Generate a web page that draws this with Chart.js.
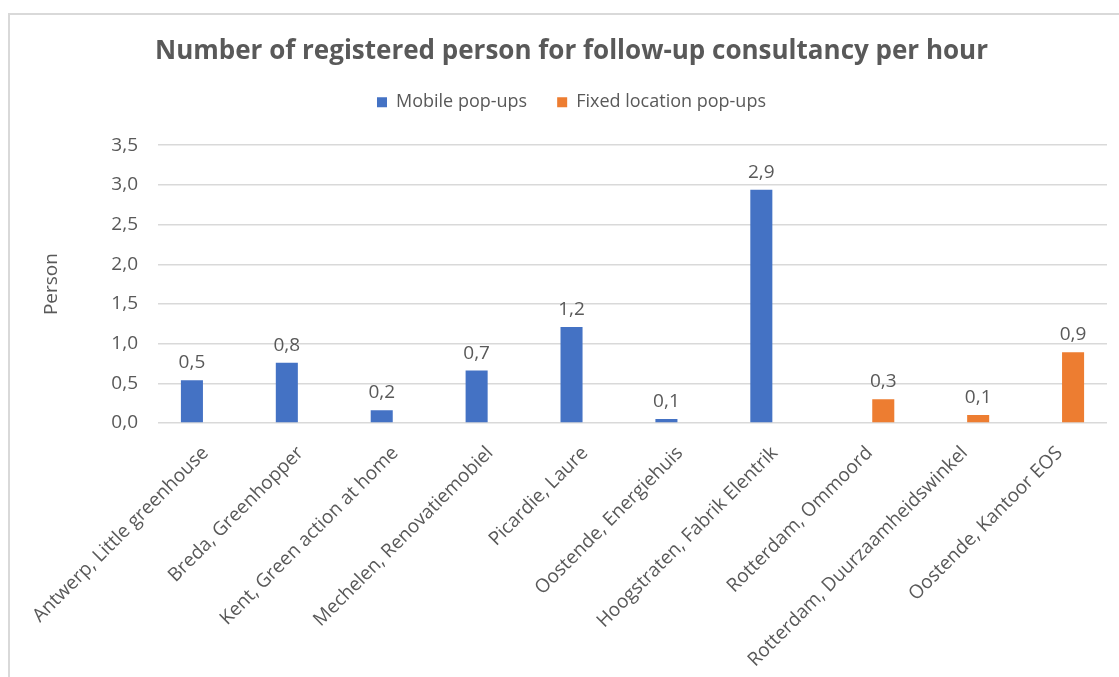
<!DOCTYPE html>
<html>
<head>
<meta charset="utf-8">
<script src="https://cdn.jsdelivr.net/npm/chart.js@4.4.1/dist/chart.umd.min.js"></script>
<style>
  html, body { margin: 0; padding: 0; background: #fff; overflow: hidden; }
  #marco {
    position: absolute; left: 8px; top: 13px;
    width: 1130px; height: 700px;
    border: 2px solid #d9d9d9; box-sizing: border-box;
  }
  #lienzo { position: absolute; left: 0; top: 0; }
</style>
</head>
<body>
<div id="marco"></div>
<canvas id="lienzo" width="1119" height="677"></canvas>
<script>
// Datos
const categorias = [
  "Antwerp, Little greenhouse",
  "Breda, Greenhopper",
  "Kent, Green action at home",
  "Mechelen, Renovatiemobiel",
  "Picardie, Laure",
  "Oostende, Energiehuis",
  "Hoogstraten, Fabrik Elentrik",
  "Rotterdam, Ommoord",
  "Rotterdam, Duurzaamheidswinkel",
  "Oostende, Kantoor EOS"
];
const popupsMoviles = [0.54, 0.76, 0.16, 0.66, 1.21, 0.05, 2.94, null, null, null];
const popupsFijos = [null, null, null, null, null, null, null, 0.30, 0.10, 0.89];
const ticksY = [0, 0.5, 1, 1.5, 2, 2.5, 3, 3.5];

const GRIS_TEXTO = "#595959";
const FUENTE = "'Open Sans', 'Noto Sans', sans-serif";

// Etiquetas de valor encima de cada barra (formato con coma decimal)
const etiquetasValor = {
  id: "etiquetasValor",
  afterDatasetsDraw(chart) {
    const ctx = chart.ctx;
    ctx.save();
    ctx.font = "19px " + FUENTE;
    ctx.fillStyle = GRIS_TEXTO;
    ctx.textAlign = "center";
    ctx.textBaseline = "bottom";
    chart.data.datasets.forEach((ds, i) => {
      const meta = chart.getDatasetMeta(i);
      meta.data.forEach((barra, j) => {
        const v = ds.data[j];
        if (v === null || v === undefined) return;
        ctx.fillText(v.toFixed(1).replace(".", ","), barra.x, barra.y - 8);
      });
    });
    ctx.restore();
  }
};

new Chart(document.getElementById("lienzo").getContext("2d"), {
  type: "bar",
  data: {
    labels: categorias,
    datasets: [
      {
        label: "Mobile pop-ups",
        data: popupsMoviles,
        backgroundColor: "#4472C4",
        categoryPercentage: 0.57,
        barPercentage: 0.815
      },
      {
        label: "Fixed location pop-ups",
        data: popupsFijos,
        backgroundColor: "#ED7D31",
        categoryPercentage: 0.57,
        barPercentage: 0.815
      }
    ]
  },
  options: {
    responsive: false,
    animation: false,
    layout: { padding: { left: 36, right: 12, top: 0, bottom: 0 } },
    plugins: {
      title: {
        display: true,
        text: "Number of registered person for follow-up consultancy per hour",
        color: GRIS_TEXTO,
        font: { family: FUENTE, size: 26, weight: "bold" },
        padding: { top: 36, bottom: -4 }
      },
      // separador vacío entre la leyenda y el área del gráfico
      subtitle: {
        display: true,
        text: "",
        weight: 500,
        font: { size: 10, lineHeight: 1 },
        padding: { top: 0, bottom: 14 }
      },
      legend: {
        display: true,
        labels: {
          color: GRIS_TEXTO,
          font: { family: FUENTE, size: 18 },
          boxWidth: 10,
          boxHeight: 10,
          padding: 30
        }
      },
      tooltip: { enabled: false }
    },
    scales: {
      x: {
        grid: { display: false },
        border: { display: false },
        ticks: {
          color: GRIS_TEXTO,
          font: { family: FUENTE, size: 19 },
          minRotation: 45,
          maxRotation: 45,
          autoSkip: false,
          padding: 11
        },
        afterFit(escala) { escala.height = 254; }
      },
      y: {
        min: 0,
        max: 3.5,
        afterBuildTicks(escala) { escala.ticks = ticksY.map(v => ({ value: v })); },
        grid: { color: "#d9d9d9", lineWidth: 1.5, drawTicks: false },
        border: { display: false },
        ticks: {
          color: GRIS_TEXTO,
          font: { family: FUENTE, size: 19 },
          padding: 20,
          callback: v => Number(v).toFixed(1).replace(".", ",")
        },
        title: {
          display: true,
          text: "Person",
          color: GRIS_TEXTO,
          font: { family: FUENTE, size: 19 }
        },
        afterFit(escala) { escala.width = 122; }
      }
    }
  },
  plugins: [etiquetasValor]
});
</script>
</body>
</html>
